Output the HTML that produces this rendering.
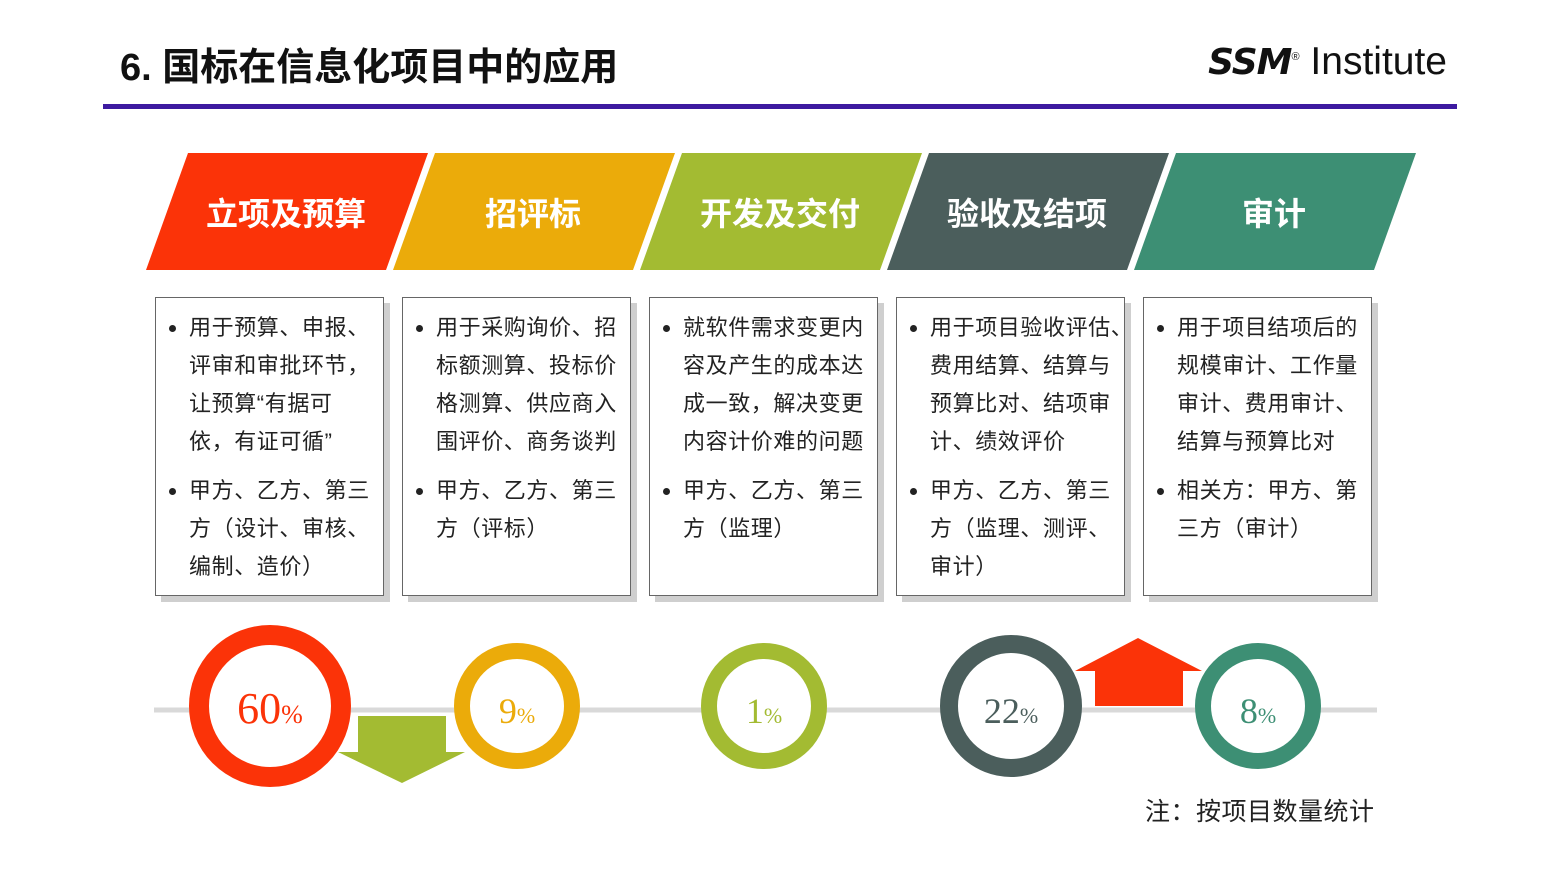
<!DOCTYPE html>
<html><head><meta charset="utf-8"><style>
body{margin:0;width:1559px;height:877px;background:#fff;position:relative;overflow:hidden;font-family:"Liberation Sans","Noto Sans CJK SC",sans-serif}
.title{position:absolute;left:120px;top:36px;font-size:38px;font-weight:bold;color:#111}
.rule{position:absolute;left:103px;top:104px;width:1354px;height:5px;background:#3d1aa0}
.logo{position:absolute;right:112px;top:40px;font-size:39px;color:#111;white-space:nowrap}
.box{position:absolute;top:297px;width:229px;height:299px;border:1.5px solid #666;background:#fff;box-shadow:6px 6px 0 #cfcfcf;box-sizing:border-box}
.box ul{margin:0;padding:11px 0 0 33px;font-size:22px;line-height:38px;color:#222;letter-spacing:0.6px;white-space:nowrap}
.box li{margin-bottom:11px}
.note{position:absolute;left:1145px;top:792px;font-size:25px;color:#222;letter-spacing:0.5px}
</style></head><body>
<div class="title">6. 国标在信息化项目中的应用</div>
<div class="logo"><b style="font-family:'DejaVu Sans';letter-spacing:-1px;font-style:italic;font-size:36px">SSM</b><sup style="font-size:11px">®</sup> Institute</div>
<div class="rule"></div>
<svg width="1559" height="877" style="position:absolute;left:0;top:0">
<g id="banners"></g>
<line x1="154" y1="710" x2="1377" y2="710" stroke="#d9d9d9" stroke-width="5"/>
<g id="circles"></g>
<polygon points="358,716 446,716 446,752 465,752 402,783 338,752 358,752" fill="#a3bb32"/>
<polygon points="1138,638 1202,671 1183,671 1183,706 1095,706 1095,671 1075,671" fill="#fb3308"/>
</svg>
<div class="box" style="left:155px"><ul><li>用于预算、申报、<br>评审和审批环节，<br>让预算“有据可<br>依，有证可循”</li><li>甲方、乙方、第三<br>方（设计、审核、<br>编制、造价）</li></ul></div>
<div class="box" style="left:402px"><ul><li>用于采购询价、招<br>标额测算、投标价<br>格测算、供应商入<br>围评价、商务谈判</li><li>甲方、乙方、第三<br>方（评标）</li></ul></div>
<div class="box" style="left:649px"><ul><li>就软件需求变更内<br>容及产生的成本达<br>成一致，解决变更<br>内容计价难的问题</li><li>甲方、乙方、第三<br>方（监理）</li></ul></div>
<div class="box" style="left:896px"><ul><li>用于项目验收评估、<br>费用结算、结算与<br>预算比对、结项审<br>计、绩效评价</li><li>甲方、乙方、第三<br>方（监理、测评、<br>审计）</li></ul></div>
<div class="box" style="left:1143px"><ul><li>用于项目结项后的<br>规模审计、工作量<br>审计、费用审计、<br>结算与预算比对</li><li>相关方：甲方、第<br>三方（审计）</li></ul></div>
<div class="note">注：按项目数量统计</div>
<script>
const stages=["立项及预算","招评标","开发及交付","验收及结项","审计"];
const stageColors=["#fb3308","#ebab0a","#a3bb32","#4b5e5c","#3d8f74"];
const percents=[60,9,1,22,8];
const radii=[71,55,55,62,55];
const strokes=[20,16,16,18,16];
const NS="http://www.w3.org/2000/svg";
const bg=document.getElementById('banners'),cg=document.getElementById('circles');
stages.forEach((s,i)=>{
 const x=188+i*247;
 const p=document.createElementNS(NS,'polygon');
 p.setAttribute('points',`${x},153 ${x+240},153 ${x+198},270 ${x-42},270`);
 p.setAttribute('fill',stageColors[i]);
 
 
 bg.appendChild(p);
 const t=document.createElementNS(NS,'text');
 t.setAttribute('x',x+98);t.setAttribute('y',225);t.setAttribute('text-anchor','middle');
 t.setAttribute('fill','#fff');t.setAttribute('font-size','32');t.setAttribute('font-weight','bold');
 t.setAttribute('font-family','"Liberation Sans","Noto Sans CJK SC",sans-serif');
 t.textContent=s;
 
 
 bg.appendChild(t);
 const cx=270+i*247;
 const c=document.createElementNS(NS,'circle');
 c.setAttribute('cx',cx);c.setAttribute('cy',706);c.setAttribute('r',radii[i]);
 c.setAttribute('fill','#fff');c.setAttribute('stroke',stageColors[i]);c.setAttribute('stroke-width',strokes[i]);
 
 
 cg.appendChild(c);
 const v=document.createElementNS(NS,'text');
 v.setAttribute('x',cx);v.setAttribute('y',723);v.setAttribute('text-anchor','middle');
 v.setAttribute('fill',stageColors[i]);v.setAttribute('font-family','"Liberation Serif",serif');
 v.setAttribute('font-size',i==0?44:36);
 v.innerHTML=percents[i]+'<tspan font-size="'+(i==0?26:22)+'">%</tspan>';
 
 
 cg.appendChild(v);
});
</script>
</body></html>
